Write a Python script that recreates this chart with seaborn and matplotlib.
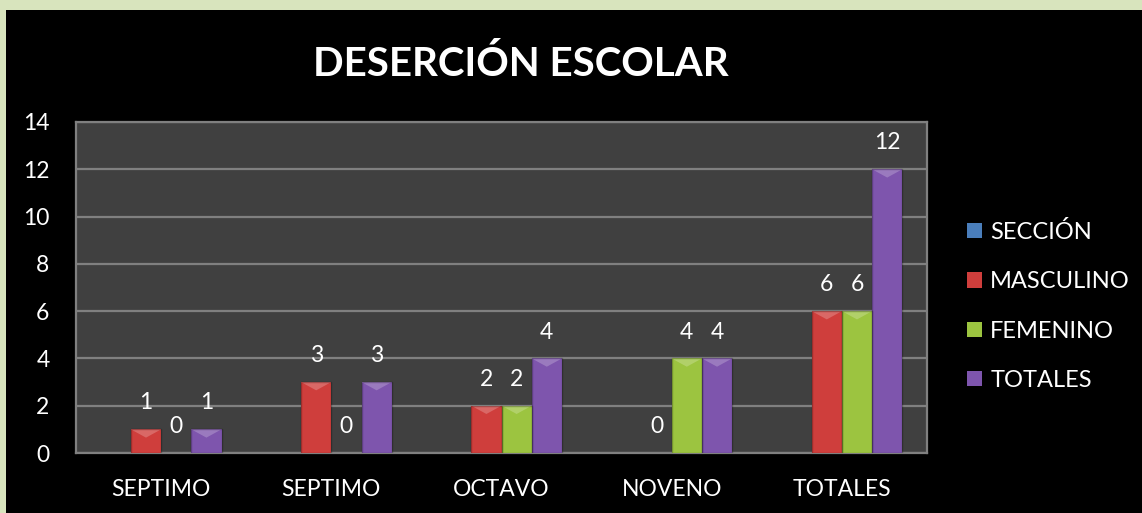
import matplotlib
matplotlib.use("Agg")
import matplotlib.pyplot as plt
import matplotlib.patches as mpatches
import pandas as pd
import seaborn as sns

CATEGORIES = ["SEPTIMO", "SEPTIMO", "OCTAVO", "NOVENO", "TOTALES"]
SERIES = ["SECCIÓN", "MASCULINO", "FEMENINO", "TOTALES"]
SECCION = [0, 0, 0, 0, 0]
MASCULINO = [1, 3, 2, 0, 6]
FEMENINO = [0, 0, 2, 4, 6]
TOTALES = [1, 3, 4, 4, 12]
COLORS = ["#4a7ebb", "#cf3e3c", "#9cc440", "#7e55ad"]

rows = []
for name, vals in zip(SERIES, [SECCION, MASCULINO, FEMENINO, TOTALES]):
    for i, v in enumerate(vals):
        rows.append({"grupo": i, "serie": name, "valor": v})
df = pd.DataFrame(rows)

sns.set_style("dark")
plt.rcParams["font.family"] = ["Lato", "DejaVu Sans"]

fig = plt.figure(figsize=(11.42, 5.13), dpi=100, facecolor="#d8e4bd")
fig.patches.append(mpatches.Rectangle((6 / 1142, 0), 1, 503 / 513, transform=fig.transFigure,
                                      facecolor="black", edgecolor="none", zorder=-5))
ax = fig.add_axes([76 / 1142, 60 / 513, 851 / 1142, 331 / 513])

sns.barplot(data=df, x="grupo", y="valor", hue="serie", hue_order=SERIES,
            palette=COLORS, saturation=1, width=0.71, edgecolor="none", linewidth=0,
            legend=False, ax=ax, zorder=3)

ax.set_facecolor("#404040")
ax.set_ylim(0, 14)
ax.set_yticks(range(0, 15, 2))
ax.set_xlim(-0.5, 4.5)
ax.set_xticks(range(5))
ax.set_xticklabels(CATEGORIES)
ax.set_xlabel(""); ax.set_ylabel("")
ax.grid(axis="y", color="#808080", linewidth=1.6, zorder=1)
ax.grid(axis="x", visible=False)
for s in ax.spines.values():
    s.set_visible(True); s.set_color("#808080"); s.set_linewidth(1.6)
ax.tick_params(axis="both", colors="white", labelsize=16.5, length=0)
ax.tick_params(axis="x", pad=19)
ax.tick_params(axis="y", pad=19)

# bisel claro arriba + etiquetas de datos (sin la serie SECCIÓN)
for cont in ax.containers[1:]:
    for bar in cont:
        h = bar.get_height()
        x0, w = bar.get_x(), bar.get_width()
        if h > 0:
            d = min(0.35, h)
            ax.add_patch(mpatches.Polygon([(x0, h), (x0 + w, h), (x0 + w / 2, h - d)],
                                          closed=True, facecolor="white", alpha=0.22,
                                          edgecolor="none", zorder=4))
            ax.add_patch(mpatches.Rectangle((x0, 0), w, h, facecolor="none",
                                            edgecolor="black", alpha=0.25, linewidth=1, zorder=4))
        ax.annotate(f"{h:.0f}", (x0 + w / 2, h),
                    xytext=(0, 19), textcoords="offset points",
                    ha="center", va="center", color="white", fontsize=16.5)

fig.text(521 / 1142, 1 - 64 / 513, "DESERCIÓN ESCOLAR", ha="center", va="center",
         color="white", fontsize=29, fontweight="bold")

handles = [mpatches.Patch(facecolor=c, edgecolor="none") for c in COLORS]
leg = fig.legend(handles, SERIES, loc="center left", bbox_to_anchor=(946 / 1142, 1 - 306 / 513),
                 frameon=False, fontsize=17, labelcolor="white", handlelength=0.62,
                 handleheight=0.62, handletextpad=0.35, labelspacing=1.2)

plt.savefig("out.png", dpi=100, facecolor=fig.get_facecolor())
